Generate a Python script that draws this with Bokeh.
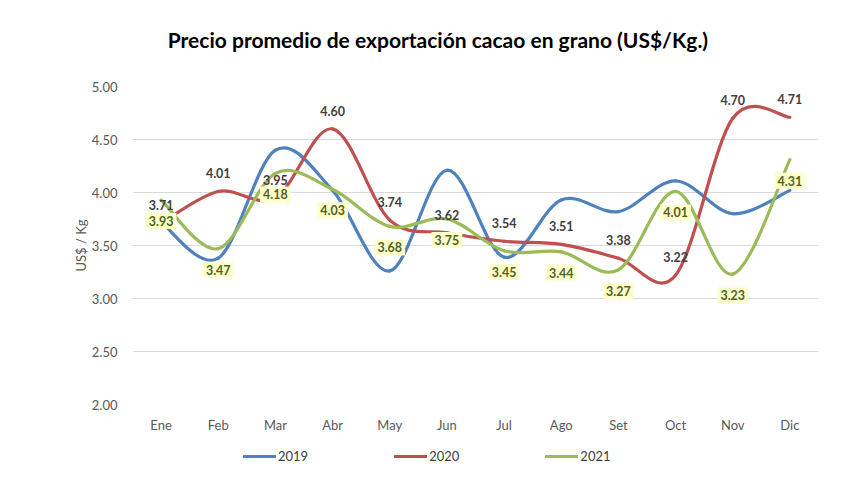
import numpy as np
from bokeh.plotting import figure
from bokeh.layouts import column
from bokeh.models import (ColumnDataSource, Legend, LegendItem, NumeralTickFormatter, FixedTicker,
                          Range1d, Label)
from bokeh.core.properties import value
from bokeh.embed import file_html
from bokeh.resources import INLINE

months = ["Ene", "Feb", "Mar", "Abr", "May", "Jun", "Jul", "Ago", "Set", "Oct", "Nov", "Dic"]
values_2019 = [3.72, 3.38, 4.40, 4.02, 3.26, 4.21, 3.39, 3.93, 3.82, 4.11, 3.80, 4.02]
values_2020 = [3.71, 4.01, 3.95, 4.60, 3.74, 3.62, 3.54, 3.51, 3.38, 3.22, 4.70, 4.71]
values_2021 = [3.93, 3.47, 4.18, 4.03, 3.68, 3.75, 3.45, 3.44, 3.27, 4.01, 3.23, 4.31]
y_ticks = [2.0, 2.5, 3.0, 3.5, 4.0, 4.5, 5.0]
series_names = ["2019", "2020", "2021"]
title_text = "Precio promedio de exportación  cacao en grano (US$/Kg.)"

FONT = "Lato"
C19, C20, C21 = "#4F81BD", "#C0504D", "#9BBB59"
W = 837
ML, MR = 132, 19


def smooth_segments(vals):
    x = np.arange(len(vals), dtype=float)
    y = np.asarray(vals, dtype=float)
    xp = np.concatenate([[x[0]], x, [x[-1]]])
    yp = np.concatenate([[y[0]], y, [y[-1]]])
    n = len(y)
    i = np.arange(n - 1)
    return dict(
        x0=xp[i + 1], y0=yp[i + 1], x1=xp[i + 2], y1=yp[i + 2],
        cx0=xp[i + 1] + (xp[i + 2] - xp[i]) / 6, cy0=yp[i + 1] + (yp[i + 2] - yp[i]) / 6,
        cx1=xp[i + 2] - (xp[i + 3] - xp[i + 1]) / 6, cy1=yp[i + 2] - (yp[i + 3] - yp[i + 1]) / 6,
    )


def strip(height, y0=0):
    f = figure(width=W, height=height, output_backend="svg", toolbar_location=None,
               x_range=Range1d(0, W - ML - MR), y_range=Range1d(y0, y0 + height),
               min_border_left=ML, min_border_right=MR, min_border_top=0, min_border_bottom=0)
    f.axis.visible = False
    f.grid.visible = False
    f.outline_line_color = None
    f.background_fill_color = "white"
    f.border_fill_color = "white"
    return f


# title strip
p0 = strip(54)
p0.add_layout(Label(x=440 - ML, y=15, text=title_text, text_align="center", text_baseline="middle",
                    text_font=FONT, text_font_size="21px", text_font_style="bold",
                    text_color="#000000"))

# main chart
p = figure(width=W, height=391, output_backend="svg", toolbar_location=None,
           x_range=Range1d(-0.5, 11.5), y_range=Range1d(2.0, 5.0),
           min_border_left=ML, min_border_right=MR, min_border_top=32, min_border_bottom=41)
p.outline_line_color = None
p.background_fill_color = "white"
p.border_fill_color = "white"

p.xaxis.ticker = FixedTicker(ticks=list(range(len(months))))
p.xaxis.major_label_overrides = {i: m for i, m in enumerate(months)}
p.yaxis.ticker = FixedTicker(ticks=y_ticks)
p.yaxis.formatter = NumeralTickFormatter(format="0.00")
for ax in (p.xaxis, p.yaxis):
    ax.axis_line_color = None
    ax.major_tick_line_color = None
    ax.minor_tick_line_color = None
    ax.major_label_text_font = FONT
    ax.major_label_text_font_size = "13px"
    ax.major_label_text_color = "#595959"
p.xaxis.major_label_standoff = 6
p.yaxis.major_label_standoff = 9
p.yaxis.axis_label = "US$ / Kg"
p.yaxis.axis_label_text_font = FONT
p.yaxis.axis_label_text_font_size = "13px"
p.yaxis.axis_label_text_font_style = "normal"
p.yaxis.axis_label_text_color = "#595959"
p.yaxis.axis_label_standoff = 0
p.xgrid.grid_line_color = None
p.ygrid.grid_line_color = "#D9D9D9"
p.ygrid.grid_line_width = 1

xs = list(range(len(months)))
colors = [C19, C20, C21]
all_vals = (values_2019, values_2020, values_2021)
for vals, col in zip(all_vals, colors):
    src = ColumnDataSource(smooth_segments(vals))
    p.bezier(x0="x0", y0="y0", x1="x1", y1="y1", cx0="cx0", cy0="cy0", cx1="cx1", cy1="cy1",
             source=src, line_color=col, line_width=3.2, line_cap="round")

# data labels 2020 (above points)
src20 = ColumnDataSource(dict(x=xs, y=values_2020, t=[f"{v:.2f}" for v in values_2020]))
p.text(x="x", y="y", text="t", source=src20, y_offset=-18,
       text_align="center", text_baseline="middle",
       text_font=value(FONT), text_font_size="12.5px", text_font_style="bold",
       text_color="#404040")

# data labels 2021 (below points, yellow boxes)
src21 = ColumnDataSource(dict(x=xs, y=values_2021, t=[f"{v:.2f}" for v in values_2021]))
p.text(x="x", y="y", text="t", source=src21, y_offset=21,
       text_align="center", text_baseline="middle",
       text_font=value(FONT), text_font_size="12.5px", text_font_style="bold",
       text_color="#4F6228", background_fill_color="#FFFFC9", padding=3)

# legend strip (series lie outside its visible range; used only for legend glyphs)
p2 = strip(36, y0=100)
items = []
for vals, col, lab in zip(all_vals, colors, series_names):
    r = p2.line(x=xs, y=vals, line_color=col, line_width=3.2, line_cap="round")
    items.append(LegendItem(label=lab, renderers=[r]))
legend = Legend(items=items, orientation="horizontal", location=(243 - ML, 17),
                border_line_color=None, background_fill_alpha=0,
                label_text_font=FONT, label_text_font_size="13px", label_text_color="#404040",
                glyph_width=33, glyph_height=12, label_standoff=2,
                spacing=86, padding=0, margin=0)
p2.add_layout(legend, "center")

layout = column(p0, p, p2, spacing=0)
open("out.html", "w").write(file_html(layout, INLINE))
